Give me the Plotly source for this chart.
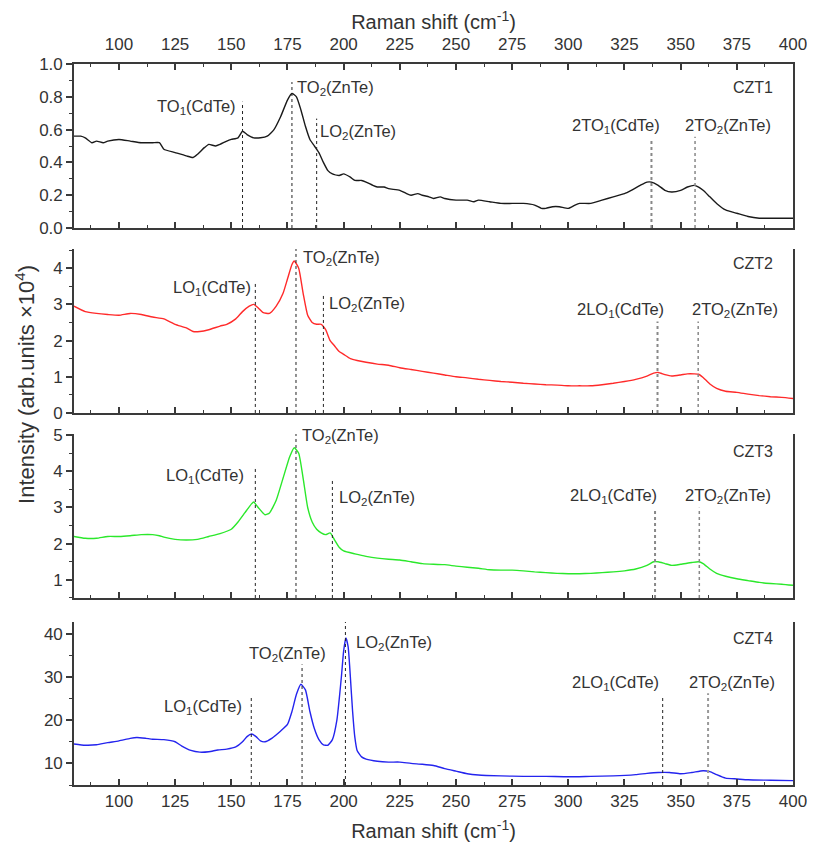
import plotly.graph_objects as go

# ---------------- data ----------------
x_czt1 = [80, 83, 85, 88, 90, 93, 95, 100, 105, 110, 115, 118, 120, 125, 130, 133, 135, 138, 140, 143, 145, 148,
          150, 153, 155, 157, 160, 163, 166, 169, 172, 175, 177, 179, 181, 183, 185, 187, 189, 191, 193, 195,
          198, 200, 203, 205, 208, 210, 213, 215, 218, 220, 225, 228, 230, 233, 235, 238, 240, 243, 245, 250,
          255, 258, 260, 265, 270, 275, 280, 285, 288, 290, 293, 296, 300, 303, 305, 310, 315, 320, 325, 328,
          332, 335, 337, 340, 343, 346, 350, 353, 356, 358, 360, 363, 366, 370, 375, 380, 385, 390, 395, 400]
y_czt1 = [0.56, 0.56, 0.55, 0.52, 0.53, 0.52, 0.53, 0.54, 0.53, 0.52, 0.52, 0.52, 0.48, 0.46, 0.44, 0.43, 0.45,
          0.49, 0.51, 0.50, 0.51, 0.53, 0.54, 0.55, 0.59, 0.57, 0.55, 0.55, 0.56, 0.60, 0.68, 0.78, 0.82, 0.80,
          0.72, 0.62, 0.54, 0.50, 0.46, 0.40, 0.35, 0.33, 0.32, 0.33, 0.31, 0.29, 0.29, 0.28, 0.26, 0.25, 0.25,
          0.24, 0.23, 0.21, 0.20, 0.21, 0.20, 0.19, 0.18, 0.19, 0.18, 0.17, 0.17, 0.16, 0.17, 0.16, 0.15, 0.15,
          0.15, 0.14, 0.12, 0.12, 0.13, 0.13, 0.12, 0.14, 0.15, 0.15, 0.17, 0.19, 0.21, 0.23, 0.26, 0.28, 0.28,
          0.26, 0.23, 0.22, 0.23, 0.25, 0.26, 0.25, 0.23, 0.19, 0.15, 0.11, 0.09, 0.07, 0.06, 0.06, 0.06, 0.06]

x_czt2 = [80, 85, 90, 95, 100, 105, 110, 115, 120, 125, 130, 133, 136, 140, 145, 148, 152, 155, 158, 160, 162,
          164, 167, 170, 173, 175, 177, 178, 180, 182, 184, 186, 188, 190, 192, 194, 196, 198, 200, 203, 206,
          210, 215, 220, 225, 230, 235, 240, 245, 250, 255, 260, 265, 270, 275, 280, 285, 290, 295, 300, 305,
          310, 315, 320, 325, 330, 335, 338, 340, 343, 346, 350, 353, 356, 358, 360, 363, 366, 370, 375, 380,
          385, 390, 395, 400]
y_czt2 = [2.95, 2.80, 2.75, 2.72, 2.70, 2.75, 2.72, 2.65, 2.60, 2.45, 2.35, 2.25, 2.25, 2.30, 2.40, 2.45, 2.60,
          2.80, 2.95, 3.00, 2.90, 2.78, 2.75, 2.95, 3.30, 3.70, 4.10, 4.20, 4.00, 3.30, 2.70, 2.50, 2.45, 2.45,
          2.30, 2.00, 1.85, 1.70, 1.62, 1.50, 1.45, 1.40, 1.35, 1.32, 1.25, 1.20, 1.15, 1.10, 1.05, 1.00, 0.97,
          0.93, 0.90, 0.87, 0.85, 0.82, 0.80, 0.78, 0.77, 0.75, 0.75, 0.75, 0.78, 0.82, 0.87, 0.93, 1.02, 1.10,
          1.12, 1.06, 1.02, 1.05, 1.08, 1.08, 1.07, 0.98, 0.80, 0.68, 0.60, 0.57, 0.52, 0.48, 0.45, 0.43, 0.40]

x_czt3 = [80, 85, 90, 95, 100, 105, 110, 115, 118, 120, 125, 130, 135, 140, 145, 150, 153, 156, 159, 160, 162,
          165, 167, 170, 173, 176, 178, 180, 182, 184, 186, 188, 190, 192, 194, 196, 198, 200, 205, 210, 215,
          220, 225, 230, 235, 240, 245, 250, 255, 260, 265, 270, 275, 280, 285, 290, 295, 300, 305, 310, 315,
          320, 325, 330, 335, 338, 340, 343, 346, 350, 355, 358, 360, 363, 366, 370, 375, 380, 385, 390, 395, 400]
y_czt3 = [2.20, 2.15, 2.15, 2.20, 2.20, 2.22, 2.25, 2.25, 2.22, 2.18, 2.12, 2.10, 2.12, 2.20, 2.28, 2.40, 2.60,
          2.85, 3.10, 3.15, 3.00, 2.80, 2.85, 3.20, 3.80, 4.40, 4.65, 4.50, 3.80, 3.00, 2.60, 2.40, 2.30, 2.25,
          2.30, 2.10, 1.90, 1.80, 1.72, 1.65, 1.60, 1.57, 1.55, 1.50, 1.45, 1.43, 1.42, 1.38, 1.35, 1.32, 1.28,
          1.27, 1.27, 1.25, 1.22, 1.20, 1.18, 1.17, 1.17, 1.18, 1.20, 1.22, 1.25, 1.30, 1.40, 1.50, 1.50, 1.45,
          1.40, 1.43, 1.48, 1.50, 1.45, 1.30, 1.18, 1.10, 1.03, 0.98, 0.93, 0.90, 0.88, 0.85]

x_czt4 = [80, 85, 90, 95, 100, 105, 108, 112, 115, 120, 125, 128, 132, 136, 140, 144, 148, 152, 155, 157, 159,
          161, 163, 165, 168, 172, 175, 177, 179, 181, 183, 185, 187, 189, 191, 193, 195, 197, 199, 200, 201,
          202, 203, 204, 205, 206, 208, 210, 215, 220, 225, 230, 235, 240, 245, 250, 255, 260, 270, 280, 290,
          300, 310, 320, 330, 335, 340, 345, 350, 355, 360, 363, 366, 370, 375, 380, 390, 400]
y_czt4 = [14.5, 14.2, 14.3, 14.8, 15.2, 15.8, 16.0, 15.8, 15.6, 15.5, 15.0, 14.0, 13.0, 12.6, 12.7, 13.1, 13.3,
          13.8, 15.0, 16.2, 16.8, 16.2, 15.2, 15.0, 15.8, 17.5, 19.0, 22.0, 26.0, 28.3, 27.0, 22.0, 18.0, 15.5,
          14.3, 14.2, 15.5, 20.0, 30.0, 36.0, 39.0, 37.0, 30.0, 22.0, 16.0, 13.0, 11.5, 11.0, 10.5, 10.3, 10.3,
          10.0, 9.8, 9.5, 8.8, 8.2, 7.6, 7.3, 7.1, 7.0, 7.0, 6.9, 7.0, 7.1, 7.4, 7.7, 7.9, 7.9, 7.6, 7.9, 8.3,
          8.1, 7.4, 6.6, 6.4, 6.2, 6.1, 6.0]

sample_names = ["CZT1", "CZT2", "CZT3", "CZT4"]

# peak positions (cm-1), label text and the height where each marker line stops
peaks_czt1 = [155, 177, 188, 337, 356.4]
tops_czt1 = [0.77, 0.89, 0.667, 0.545, 0.556]
labels_czt1 = ["TO<sub>1</sub>(CdTe)", "TO<sub>2</sub>(ZnTe)", "LO<sub>2</sub>(ZnTe)",
               "2TO<sub>1</sub>(CdTe)", "2TO<sub>2</sub>(ZnTe)"]

peaks_czt2 = [160.7, 178.8, 191, 339.7, 357.8]
tops_czt2 = [3.59, 4.53, 3.24, 2.53, 2.53]
labels_czt2 = ["LO<sub>1</sub>(CdTe)", "TO<sub>2</sub>(ZnTe)", "LO<sub>2</sub>(ZnTe)",
               "2LO<sub>1</sub>(CdTe)", "2TO<sub>2</sub>(ZnTe)"]

peaks_czt3 = [160.7, 178.8, 195, 338.6, 358.3]
tops_czt3 = [4.13, 5.2, 3.74, 2.94, 2.99]
labels_czt3 = ["LO<sub>1</sub>(CdTe)", "TO<sub>2</sub>(ZnTe)", "LO<sub>2</sub>(ZnTe)",
               "2LO<sub>1</sub>(CdTe)", "2TO<sub>2</sub>(ZnTe)"]

peaks_czt4 = [158.9, 181.5, 200.8, 342, 362.2]
tops_czt4 = [25.4, 32.9, 44, 25.3, 26.2]
labels_czt4 = ["LO<sub>1</sub>(CdTe)", "TO<sub>2</sub>(ZnTe)", "LO<sub>2</sub>(ZnTe)",
               "2LO<sub>1</sub>(CdTe)", "2TO<sub>2</sub>(ZnTe)"]

x_ticks = [100, 125, 150, 175, 200, 225, 250, 275, 300, 325, 350, 375, 400]

# ---------------- layout / style ----------------
FONT = "Liberation Sans, Arial, sans-serif"
TXT = "#333333"
AX = "#3a3a3a"
colors = ["#1a1a1a", "#ff2a2a", "#2be82b", "#2424ee"]
y_ranges = [[0, 1.0], [0, 4.53], [0.5, 5.03], [5, 42.7]]
y_dticks = [0.2, 1, 1, 10]
y_minor = [0.1, 0.5, 0.5, 5]
y_formats = [".1f", "d", "d", "d"]
domains = [[0.7725, 1.0], [0.516, 0.7434], [0.2594, 0.4868], [0.0, 0.226]]

# label placement (x in cm-1, y in data units, anchor)
label_pos = [
    [(153, 0.737, "right"), (178.3, 0.855, "left"), (188.8, 0.586, "left"), (321, 0.62, "center"), (371, 0.62, "center")],
    [(159.5, 3.45, "right"), (181.0, 4.28, "left"), (192.5, 3.02, "left"), (323.4, 2.85, "center"), (374, 2.85, "center")],
    [(156.6, 3.88, "right"), (180.6, 4.98, "left"), (197.0, 3.26, "left"), (320.1, 3.33, "center"), (371, 3.33, "center")],
    [(155.5, 23.1, "right"), (175.0, 35.2, "center"), (204.5, 37.9, "left"), (320.8, 28.7, "center"), (372.7, 28.7, "center")],
]
name_pos = [0.855, 4.14, 4.54, 39.0]
line_colors = [
    ["#222", "#222", "#222", "#888", "#888"],
    ["#222", "#222", "#222", "#888", "#888"],
    ["#222", "#222", "#222", "#888", "#888"],
    ["#222", "#222", "#222", "#222", "#999"],
]
line_widths = [
    [1, 1, 1, 2, 1.5],
    [1, 1, 1, 2, 1.5],
    [1, 1, 1, 2, 1.5],
    [1, 1, 1, 1, 2],
]

xs = [x_czt1, x_czt2, x_czt3, x_czt4]
ys = [y_czt1, y_czt2, y_czt3, y_czt4]
peaks = [peaks_czt1, peaks_czt2, peaks_czt3, peaks_czt4]
tops = [tops_czt1, tops_czt2, tops_czt3, tops_czt4]
labels = [labels_czt1, labels_czt2, labels_czt3, labels_czt4]

fig = go.Figure()
for i in range(4):
    fig.add_trace(go.Scatter(x=xs[i], y=ys[i], mode="lines", name=sample_names[i],
                             line=dict(color=colors[i], width=1.4, shape="spline", smoothing=0.5),
                             xaxis="x" if i == 0 else f"x{i+1}", yaxis="y" if i == 0 else f"y{i+1}",
                             showlegend=False, hoverinfo="skip"))
# invisible trace to carry the top axis of the first panel
fig.add_trace(go.Scatter(x=x_czt1, y=y_czt1, mode="lines", opacity=0, xaxis="x5", yaxis="y",
                         showlegend=False, hoverinfo="skip"))

# the page body has an 8px margin, so the figure is sized to end at the window edge
layout = dict(width=807, height=844, paper_bgcolor="white", plot_bgcolor="white",
              margin=dict(l=66, r=22, t=56, b=67, autoexpand=False),
              font=dict(family=FONT, color=TXT, size=17))

minor_x = dict(ticks="inside", ticklen=3.5, tickwidth=1.2, tickcolor=AX, dtick=12.5, tick0=87.5, showgrid=False)

for i in range(4):
    xa = "xaxis" if i == 0 else f"xaxis{i+1}"
    ya = "yaxis" if i == 0 else f"yaxis{i+1}"
    yname = "y" if i == 0 else f"y{i+1}"
    xname = "x" if i == 0 else f"x{i+1}"
    layout[xa] = dict(range=[80, 400], domain=[0, 1], anchor=yname, showline=True, linecolor=AX, linewidth=1.6,
                      ticks="inside", ticklen=6, tickwidth=1.5, tickcolor=AX, tickvals=x_ticks,
                      showticklabels=(i == 3), showgrid=False, zeroline=False, mirror=False, automargin=False,
                      ticklabelstandoff=0, minor=minor_x, tickfont=dict(size=17, color=TXT))
    if i != 0:
        layout[xa]["matches"] = "x"
    layout[ya] = dict(range=y_ranges[i], domain=domains[i], anchor=xname, showline=True, linecolor=AX,
                      linewidth=1.6, mirror=True, ticks="outside", ticklen=6, tickwidth=1.5, tickcolor=AX,
                      dtick=y_dticks[i], tick0=0, tickformat=y_formats[i], showgrid=False, zeroline=False,
                      automargin=False,
                      minor=dict(ticks="outside", ticklen=3.5, tickwidth=1.2, tickcolor=AX, dtick=y_minor[i], showgrid=False),
                      tickfont=dict(size=17, color=TXT))

layout["xaxis4"]["title"] = dict(text="Raman shift (cm<sup>-1</sup>)", font=dict(size=20, color=TXT), standoff=14)
layout["xaxis5"] = dict(range=[80, 400], overlaying="x", side="top", anchor="y", showline=True, linecolor=AX,
                        linewidth=1.6, ticks="inside", ticklen=6, tickwidth=1.5, tickcolor=AX, tickvals=x_ticks,
                        showgrid=False, zeroline=False, automargin=False, ticklabelstandoff=5, minor=minor_x,
                        tickfont=dict(size=17, color=TXT),
                        title=dict(text="Raman shift (cm<sup>-1</sup>)", font=dict(size=20, color=TXT), standoff=6))

shapes = []
annotations = []
for i in range(4):
    xr = "x" if i == 0 else f"x{i+1}"
    yr = "y" if i == 0 else f"y{i+1}"
    for j, p in enumerate(peaks[i]):
        shapes.append(dict(type="line", xref=xr, yref=yr, x0=p, x1=p, y0=y_ranges[i][0], y1=tops[i][j],
                           line=dict(color=line_colors[i][j], width=line_widths[i][j], dash="3px,3px")))
        lx, ly, anc = label_pos[i][j]
        annotations.append(dict(xref=xr, yref=yr, x=lx, y=ly, xanchor=anc, yanchor="middle", text=labels[i][j],
                                showarrow=False, font=dict(size=16.5, color=TXT, family=FONT)))
    annotations.append(dict(xref=xr, yref=yr, x=392, y=name_pos[i], xanchor="right", yanchor="middle",
                            text=sample_names[i], showarrow=False, font=dict(size=16, color=TXT, family=FONT)))

annotations.append(dict(xref="paper", yref="paper", x=-0.068, y=0.555, xanchor="center", yanchor="middle",
                        text="Intensity (arb.units \u00d710<sup>4</sup>)", textangle=-90, showarrow=False,
                        font=dict(size=22, color=TXT, family=FONT)))

layout["shapes"] = shapes
layout["annotations"] = annotations
fig.update_layout(**layout)
fig.write_html("out.html")
